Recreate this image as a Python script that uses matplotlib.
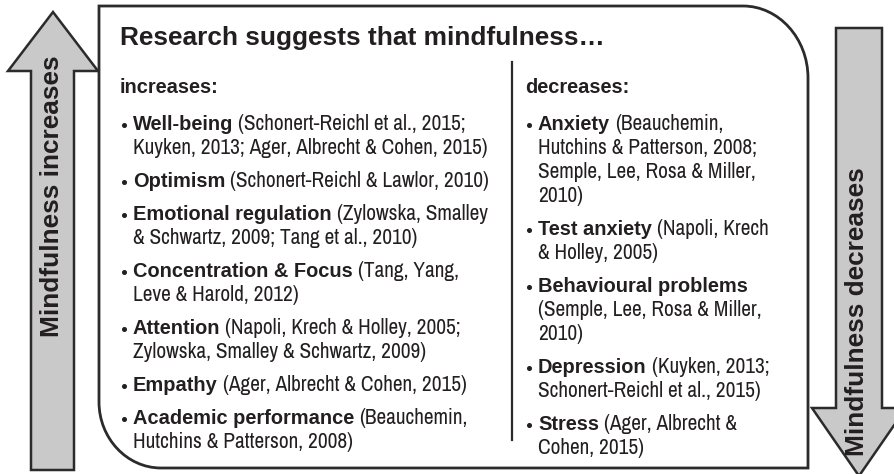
import matplotlib
matplotlib.use("Agg")
import matplotlib.pyplot as plt
from matplotlib.patches import Polygon, PathPatch
from matplotlib.path import Path
from matplotlib import font_manager as fm

# ---------------- content ----------------
title = "Research suggests that mindfulness\u2026"
left_header = "increases:"
right_header = "decreases:"
left_arrow_label = "Mindfulness increases"
right_arrow_label = "Mindfulness decreases"

left_terms = ["Well-being", "Optimism", "Emotional regulation", "Concentration & Focus",
              "Attention", "Empathy", "Academic performance"]
left_cites = [
    ["(Schonert-Reichl et al., 2015;", "Kuyken, 2013; Ager, Albrecht & Cohen, 2015)"],
    ["(Schonert-Reichl & Lawlor, 2010)"],
    ["(Zylowska, Smalley", "& Schwartz, 2009; Tang et al., 2010)"],
    ["(Tang, Yang,", "Leve & Harold, 2012)"],
    ["(Napoli, Krech & Holley, 2005;", "Zylowska, Smalley & Schwartz, 2009)"],
    ["(Ager, Albrecht & Cohen, 2015)"],
    ["(Beauchemin,", "Hutchins & Patterson, 2008)"],
]
right_terms = ["Anxiety", "Test anxiety", "Behavioural problems", "Depression", "Stress"]
right_cites = [
    ["(Beauchemin,", "Hutchins & Patterson, 2008;", "Semple, Lee, Rosa & Miller,", "2010)"],
    ["(Napoli, Krech", "& Holley, 2005)"],
    ["", "(Semple, Lee, Rosa & Miller,", "2010)"],
    ["(Kuyken, 2013;", "Schonert-Reichl et al., 2015)"],
    ["(Ager, Albrecht &", "Cohen, 2015)"],
]

# ---------------- fonts ----------------
names = {f.name for f in fm.fontManager.ttflist}
BOLD_FAMILY = "Liberation Sans" if "Liberation Sans" in names else "DejaVu Sans"
REG_FAMILY = BOLD_FAMILY
for cand in ["Liberation Sans Narrow", "Arial Narrow", "Nimbus Sans Narrow",
             "Archivo Narrow", "Roboto Condensed", "Asap Condensed"]:
    if cand in names:
        REG_FAMILY = cand
        break

INK = "#231f20"
EDGE = "#2b2b2b"
W, H = 895, 474
fig = plt.figure(figsize=(W / 100, H / 100), dpi=100)
ax = fig.add_axes([0, 0, 1, 1])
ax.set_xlim(0, W)
ax.set_ylim(H, 0)
ax.axis("off")

renderer = fig.canvas.get_renderer()


def fit_size(text, family, weight, target_px):
    t = fig.text(0, 0, text, fontsize=10, family=family, fontweight=weight)
    w = t.get_window_extent(renderer).width
    t.remove()
    return 10 * target_px / w


REG_SIZE = fit_size("Kuyken, 2013; Ager, Albrecht & Cohen, 2015)", REG_FAMILY, "normal", 355)
BOLD_SIZE = fit_size("Concentration & Focus", BOLD_FAMILY, "bold", 220)
TITLE_SIZE = fit_size(title, BOLD_FAMILY, "bold", 485)
ARROW_SIZE = fit_size(left_arrow_label, BOLD_FAMILY, "bold", 282)

# ---------------- arrows ----------------
up_arrow = [(31, 470), (31, 71), (8, 71), (53, 12), (98, 71), (74, 71), (74, 470)]
ax.add_patch(Polygon(up_arrow, closed=True, facecolor="#c9c9c9", edgecolor=EDGE, lw=1.8, zorder=1))
down_arrow = [(836, 28), (882, 28), (882, 408), (906, 408), (859, 476), (812, 408), (836, 408)]
ax.add_patch(Polygon(down_arrow, closed=True, facecolor="#c9c9c9", edgecolor=EDGE, lw=1.8, zorder=1))
ax.text(52, 196, left_arrow_label, rotation=90, ha="center", va="center",
        fontsize=ARROW_SIZE, fontweight="bold", family=BOLD_FAMILY, color=INK, zorder=3)
ax.text(857, 312, right_arrow_label, rotation=90, ha="center", va="center",
        fontsize=ARROW_SIZE, fontweight="bold", family=BOLD_FAMILY, color=INK, zorder=3)

# ---------------- main box ----------------
k = 0.55
x0, y0, x1, y1 = 99, 6, 808, 468
rtx, rty = 65, 72   # top-right corner radii
rbx, rby = 62, 66   # bottom-left corner radii
verts = [
    (x0, y0),
    (x1 - rtx, y0),
    (x1 - rtx + k * rtx, y0), (x1, y0 + rty - k * rty), (x1, y0 + rty),
    (x1, y1),
    (x0 + rbx, y1),
    (x0 + rbx - k * rbx, y1), (x0, y1 - rby + k * rby), (x0, y1 - rby),
    (x0, y0),
]
codes = [Path.MOVETO, Path.LINETO, Path.CURVE4, Path.CURVE4, Path.CURVE4,
         Path.LINETO, Path.LINETO, Path.CURVE4, Path.CURVE4, Path.CURVE4, Path.CLOSEPOLY]
ax.add_patch(PathPatch(Path(verts, codes), facecolor="white", edgecolor=EDGE, lw=2.0, zorder=2))

# divider
ax.plot([512, 512], [62, 440], color=EDGE, lw=1.6, zorder=3)

# ---------------- text ----------------
ax.text(120, 45, title, ha="left", va="baseline", fontsize=TITLE_SIZE, fontweight="bold",
        family=BOLD_FAMILY, color=INK, zorder=4)
ax.text(120, 93, left_header, ha="left", va="baseline", fontsize=BOLD_SIZE, fontweight="bold",
        family=BOLD_FAMILY, color=INK, zorder=4)
ax.text(525, 93, right_header, ha="left", va="baseline", fontsize=BOLD_SIZE, fontweight="bold",
        family=BOLD_FAMILY, color=INK, zorder=4)

fig.canvas.draw()
inv = ax.transData.inverted()

LINE = 24
GAP = 9


def draw_column(xb, terms, cites, y_start):
    y = y_start
    for term, lines in zip(terms, cites):
        ax.plot([xb + 4], [y - 5], marker="o", ms=2.6, color=INK, zorder=4)
        t = ax.text(xb + 13, y, term, ha="left", va="baseline", fontsize=BOLD_SIZE, fontweight="bold",
                    family=BOLD_FAMILY, color=INK, zorder=4)
        bb = t.get_window_extent(renderer)
        xr = inv.transform((bb.x1, bb.y0))[0]
        for i, line in enumerate(lines):
            if i == 0:
                if line:
                    ax.text(xr + 5, y, line, ha="left", va="baseline", fontsize=REG_SIZE,
                            family=REG_FAMILY, color=INK, zorder=4)
            else:
                ax.text(xb + 13, y + i * LINE, line, ha="left", va="baseline", fontsize=REG_SIZE,
                        family=REG_FAMILY, color=INK, zorder=4)
        y += len(lines) * LINE + GAP


draw_column(120, left_terms, left_cites, 130)
draw_column(525, right_terms, right_cites, 130)

fig.savefig("out.png", dpi=100)
